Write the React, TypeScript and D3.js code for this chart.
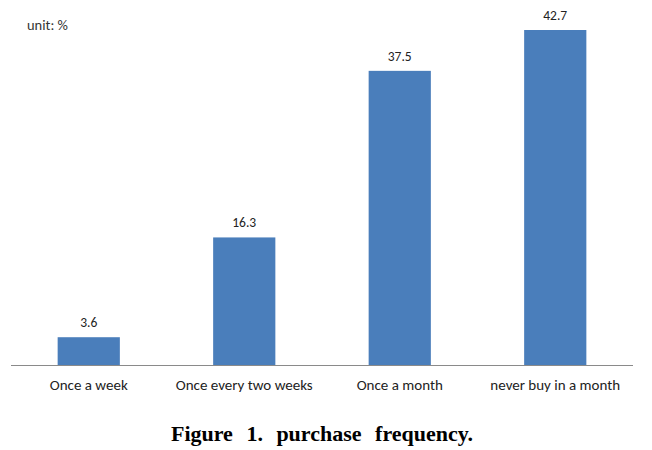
import React from 'react';
import * as d3 from 'd3';

const categories = ['Once a week', 'Once every two weeks', 'Once a month', 'never buy in a month'];
const values = [3.6, 16.3, 37.5, 42.7];
const unitLabel = 'unit: %';
const caption = 'Figure 1. purchase frequency.';

const W = 652;
const H = 450;
const baseY = 365.5;

const App = () => {
  const x = d3
    .scaleBand<string>()
    .domain(categories)
    .range([11, 633])
    .paddingInner(0.6)
    .paddingOuter(0.3);

  const y = d3.scaleLinear().domain([0, 42.7]).range([baseY, 30]);

  const font = "Carlito, Lato, 'Open Sans', sans-serif";

  return (
    <div style={{ position: 'absolute', left: 0, top: 0 }}>
      <svg width={W} height={H} style={{ display: 'block', background: '#fff' }}>
        <text x={27} y={30} fontFamily={font} fontSize={14.5} fill="#333">
          {unitLabel}
        </text>
        {categories.map((c, i) => (
          <g key={c}>
            <rect
              x={x(c)}
              y={y(values[i])}
              width={x.bandwidth()}
              height={baseY - y(values[i])}
              fill="#4A7EBB"
            />
            <text
              x={x(c)! + x.bandwidth() / 2}
              y={y(values[i]) - 10}
              textAnchor="middle"
              fontFamily={font}
              fontSize={13.5}
              fill="#222"
            >
              {values[i]}
            </text>
            <text
              x={x(c)! + x.bandwidth() / 2}
              y={390}
              textAnchor="middle"
              fontFamily={font}
              fontSize={15}
              fill="#222"
            >
              {c}
            </text>
          </g>
        ))}
        <line x1={11} x2={633} y1={baseY} y2={baseY} stroke="#8a8a8a" strokeWidth={1} />
        <text
          x={322}
          y={441}
          textAnchor="middle"
          fontFamily="'Liberation Serif', 'Times New Roman', serif"
          fontWeight="bold"
          fontSize={22}
          wordSpacing={8}
          fill="#000"
        >
          {caption}
        </text>
      </svg>
    </div>
  );
};

export default App;
